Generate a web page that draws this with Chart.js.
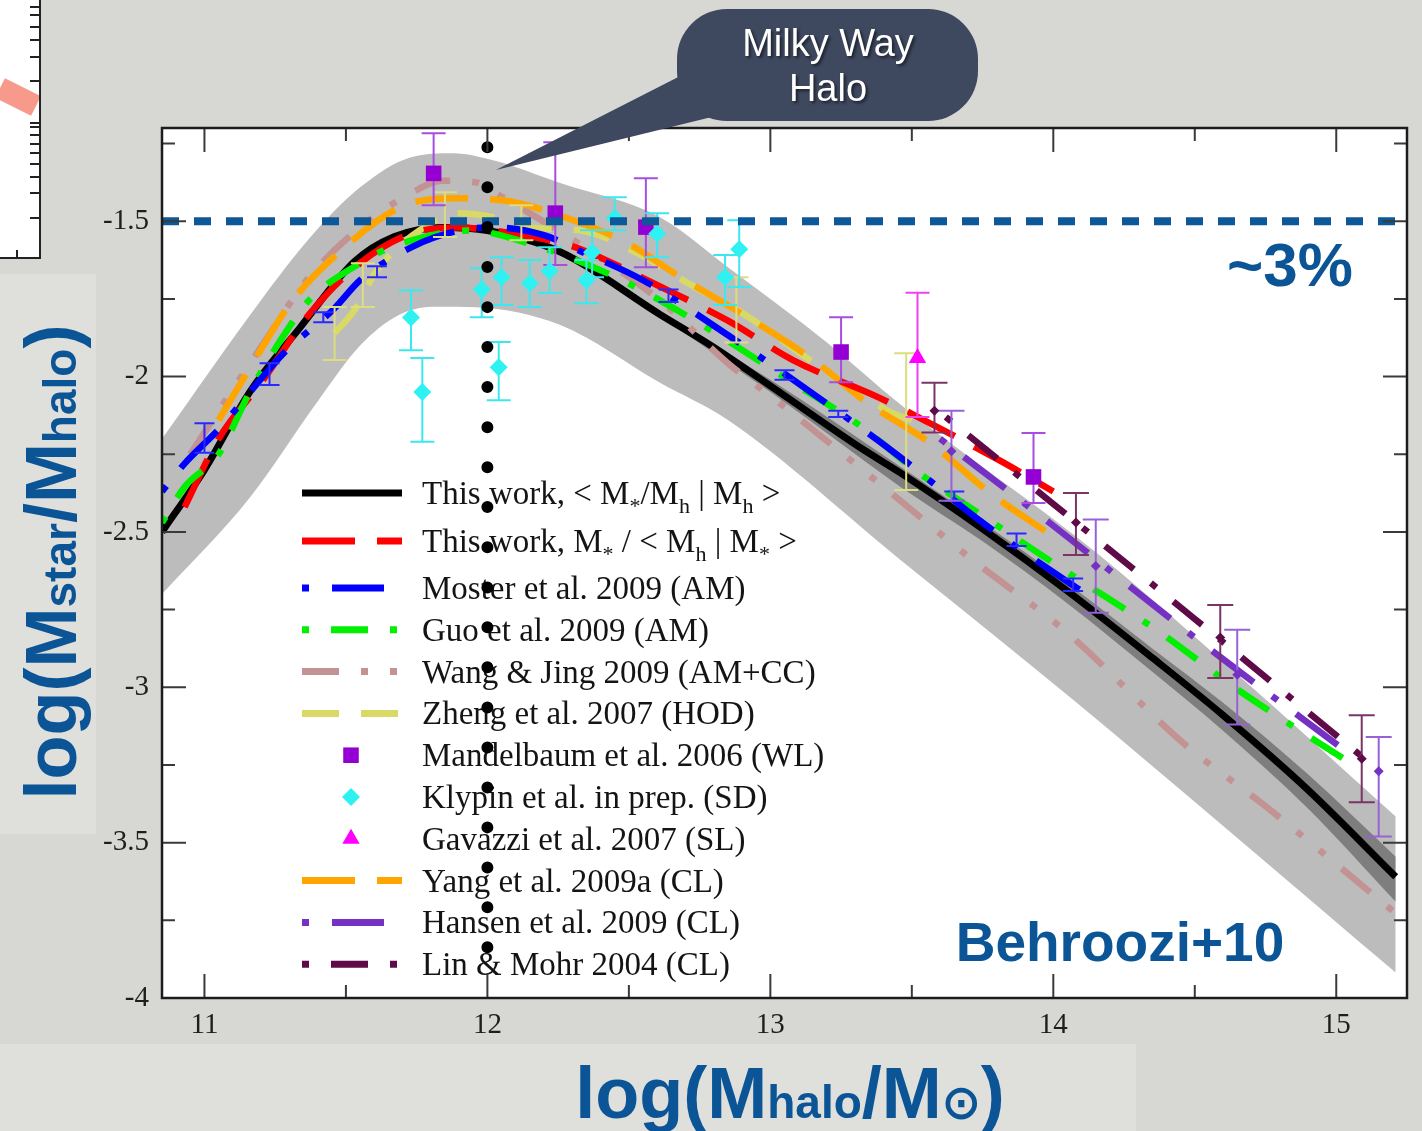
<!DOCTYPE html>
<html>
<head>
<meta charset="utf-8">
<script src="https://cdn.jsdelivr.net/npm/chart.js@4.4.1/dist/chart.umd.min.js"></script>
<style>
  html, body { margin: 0; padding: 0; background: #d7d7d4; }
  canvas { display: block; }
</style>
</head>
<body>
<canvas id="shmr" width="1422" height="1131"></canvas>
<script>
// axis ticks
const xTicks = [11, 12, 13, 14, 15];
const xMinorTicks = [11.5, 12.5, 13.5, 14.5];
const yTicks = [-4, -3.5, -3, -2.5, -2, -1.5];
const yMinorTicks = [-3.75, -3.25, -2.75, -2.25, -1.75, -1.25];

// light grey scatter band
const bandUpX = [10.85, 11.2, 11.375, 11.55, 11.73, 11.88, 12.02, 12.26, 12.61, 12.85, 13.2, 13.46, 14.17, 14.64, 15.21];
const bandUpY = [-2.2, -1.754, -1.551, -1.391, -1.294, -1.281, -1.304, -1.378, -1.487, -1.648, -1.89, -2.09, -2.58, -2.95, -3.416];
const bandLoX = [10.85, 11.16, 11.4, 11.55, 11.69, 11.82, 11.96, 12.26, 12.61, 12.85, 13.46, 14.07, 15.21];
const bandLoY = [-2.7, -2.39, -2.08, -1.9, -1.8, -1.775, -1.777, -1.835, -2.02, -2.14, -2.59, -3.04, -3.918];

// dark grey band around the main relation
const darkX = [12.6, 13.0, 13.46, 13.75, 14.05, 14.35, 14.6, 14.9, 15.21];
const darkUpY = [-1.79, -2.01, -2.29, -2.47, -2.665, -2.875, -3.05, -3.28, -3.545];
const darkLoY = [-1.8, -2.05, -2.355, -2.53, -2.73, -2.95, -3.14, -3.39, -3.69];

// model curves
const blackX = [10.85, 11.0, 11.16, 11.34, 11.53, 11.67, 11.84, 12.0, 12.26, 12.61, 12.79, 13.0, 13.32, 13.46, 13.75, 14.05, 14.35, 14.6, 14.9, 15.21];
const blackY = [-2.5, -2.3, -2.05, -1.84, -1.63, -1.55, -1.52, -1.53, -1.6, -1.8, -1.9, -2.03, -2.23, -2.31, -2.49, -2.69, -2.905, -3.09, -3.33, -3.61];
const redX = [10.93, 11.05, 11.2, 11.37, 11.55, 11.73, 11.9, 12.02, 12.26, 12.33, 12.61, 12.85, 13.08, 13.38, 13.5, 13.81, 14.0];
const redY = [-2.42, -2.2, -2.02, -1.8, -1.635, -1.54, -1.52, -1.53, -1.57, -1.59, -1.71, -1.82, -1.947, -2.066, -2.12, -2.27, -2.37];
const mosterX = [10.85, 10.93, 11.05, 11.28, 11.46, 11.55, 11.74, 11.9, 12.02, 12.2, 12.32, 12.55, 12.79, 13.08, 13.46, 13.75, 14.05, 14.1];
const mosterY = [-2.37, -2.28, -2.17, -1.925, -1.78, -1.69, -1.58, -1.53, -1.52, -1.545, -1.593, -1.69, -1.83, -2.01, -2.26, -2.47, -2.66, -2.69];
const guoX = [10.85, 10.93, 11.05, 11.16, 11.3, 11.37, 11.55, 11.67, 11.94, 12.14, 12.43, 12.73, 13.08, 13.32, 13.51, 13.77, 14.05, 14.38, 14.64, 15.06];
const guoY = [-2.47, -2.355, -2.25, -2.05, -1.84, -1.754, -1.635, -1.58, -1.53, -1.57, -1.67, -1.818, -2.02, -2.16, -2.3, -2.46, -2.63, -2.825, -3.0, -3.25];
const wangX = [10.95, 11.0, 11.2, 11.37, 11.55, 11.73, 11.84, 11.96, 12.03, 12.37, 12.61, 12.85, 13.02, 13.46, 13.7, 14.05, 14.46, 14.76, 15.2];
const wangY = [-2.25, -2.18, -1.905, -1.68, -1.52, -1.41, -1.37, -1.375, -1.41, -1.6, -1.755, -1.957, -2.076, -2.4, -2.58, -2.825, -3.18, -3.39, -3.72];
const zhengX = [11.46, 11.53, 11.61, 11.76, 11.9, 12.02, 12.14, 12.33, 12.53, 12.71, 12.9, 13.14, 13.43, 13.5];
const zhengY = [-1.86, -1.786, -1.657, -1.53, -1.474, -1.487, -1.52, -1.53, -1.603, -1.7, -1.795, -1.947, -2.117, -2.14];
const yangX = [11.05, 11.163, 11.304, 11.456, 11.693, 11.87, 12.046, 12.304, 12.495, 12.682, 12.919, 13.152, 13.343, 13.565, 13.777, 13.98];
const yangY = [-2.14, -1.969, -1.764, -1.616, -1.455, -1.426, -1.432, -1.497, -1.571, -1.68, -1.809, -1.947, -2.085, -2.214, -2.375, -2.503];
const hansenX = [13.6, 14.0, 14.5, 15.07];
const hansenY = [-2.2, -2.48, -2.84, -3.23];
const linX = [13.62, 14.0, 14.5, 15.1];
const linY = [-2.13, -2.41, -2.78, -3.23];

// data points with error bars (lo / hi are the bar ends)
const mandelX = [11.81, 12.24, 12.56, 13.25, 13.93];
const mandelY = [-1.346, -1.474, -1.519, -1.921, -2.323];
const mandelLo = [-1.449, -1.641, -1.648, -2.018, -2.407];
const mandelHi = [-1.217, -1.246, -1.362, -1.809, -2.182];
const klypinX = [11.73, 11.77, 11.98, 12.05, 12.04, 12.15, 12.22, 12.35, 12.37, 12.45, 12.6, 12.84, 12.89];
const klypinY = [-1.81, -2.05, -1.72, -1.68, -1.97, -1.7, -1.66, -1.69, -1.6, -1.49, -1.54, -1.68, -1.59];
const klypinLo = [-1.915, -2.21, -1.809, -1.77, -2.076, -1.776, -1.731, -1.764, -1.68, -1.529, -1.616, -1.77, -1.712];
const klypinHi = [-1.722, -1.94, -1.651, -1.616, -1.889, -1.625, -1.584, -1.625, -1.529, -1.423, -1.474, -1.609, -1.497];
const gavazziX = [13.52];
const gavazziY = [-1.94];
const gavazziLo = [-2.13];
const gavazziHi = [-1.73];
const zhengErrX = [11.46, 11.56, 11.85, 12.12, 12.88, 13.48];
const zhengErrY = [-1.86, -1.7, -1.48, -1.5, -1.78, -2.14];
const zhengErrLo = [-1.947, -1.776, -1.551, -1.561, -1.89, -2.365];
const zhengErrHi = [-1.776, -1.635, -1.407, -1.449, -1.68, -1.925];
const mosterErrX = [11.0, 11.23, 11.42, 11.61, 12.64, 13.05, 13.24, 13.65, 13.87, 14.07];
const mosterErrY = [-2.2, -1.99, -1.81, -1.66, -1.74, -1.995, -2.12, -2.385, -2.525, -2.67];
const mosterErrLo = [-2.245, -2.027, -1.825, -1.68, -1.76, -2.01, -2.13, -2.4, -2.545, -2.69];
const mosterErrHi = [-2.15, -1.957, -1.793, -1.645, -1.72, -1.98, -2.11, -2.37, -2.505, -2.65];
const linErrX = [13.58, 14.08, 14.59, 15.09];
const linErrY = [-2.11, -2.47, -2.84, -3.23];
const linErrLo = [-2.18, -2.574, -2.97, -3.37];
const linErrHi = [-2.02, -2.375, -2.735, -3.09];
const hansenErrX = [13.64, 14.15, 14.65, 15.15];
const hansenErrY = [-2.24, -2.61, -2.96, -3.27];
const hansenErrLo = [-2.4, -2.76, -3.12, -3.48];
const hansenErrHi = [-2.11, -2.46, -2.815, -3.16];

// reference lines
const pctX = [10.85, 15.21];
const pctY = [-1.5, -1.5];
const mwX = [12, 12];
const mwY = [-1.262, -3.845];

// tick marks of the neighbouring panel peeking in at the top-left corner
const cornerTickY = [7, 15, 27, 40, 57, 81, 123, 127, 135, 144, 153, 164, 177, 193, 218];

const BLUE = "#0b5596";
const SERIF = '"Liberation Serif", "Times New Roman", serif';
const SANS = '"Liberation Sans", Arial, sans-serif';

const pts = (xs, ys) => xs.map((x, i) => ({ x, y: ys[i] }));

const curve = (label, xs, ys, color, dash, order, width) => ({
  label, data: pts(xs, ys), borderColor: color, backgroundColor: color,
  borderWidth: width || 6.5, borderDash: dash, pointRadius: 0, fill: false, order,
});

const marks = (label, xs, ys, lo, hi, s) => ({
  label, data: pts(xs, ys), showLine: false, order: s.order,
  pointStyle: s.shape || "circle", pointRadius: s.radius, pointHoverRadius: s.radius,
  pointBackgroundColor: s.color, pointBorderWidth: 0,
  errorBars: { lo, hi, color: s.bar, cap: s.cap, width: s.width || 2 },
});

const datasets = [
  { label: "bandUp", data: pts(bandUpX, bandUpY), fill: "+1", backgroundColor: "#bcbcbc", borderWidth: 0, pointRadius: 0, order: 20 },
  { label: "bandLo", data: pts(bandLoX, bandLoY), fill: false, borderWidth: 0, pointRadius: 0, order: 19 },
  { label: "darkUp", data: pts(darkX, darkUpY), fill: "+1", backgroundColor: "#7e7e7e", borderWidth: 0, pointRadius: 0, order: 18 },
  { label: "darkLo", data: pts(darkX, darkLoY), fill: false, borderWidth: 0, pointRadius: 0, order: 17 },
  curve("black", blackX, blackY, "#000000", [], 14, 7),
  curve("wang", wangX, wangY, "#c39292", [37, 22, 7, 22, 7, 22], 13),
  curve("zheng", zhengX, zhengY, "#d9d966", [37, 22], 12),
  curve("yang", yangX, yangY, "#ffa500", [53, 22], 11),
  curve("red", redX, redY, "#ff0000", [53, 22], 10),
  curve("guo", guoX, guoY, "#00f000", [7, 22, 37, 22], 9),
  curve("moster", mosterX, mosterY, "#0000ff", [7, 23, 52, 23], 8),
  curve("hansen", hansenX, hansenY, "#7431c4", [7, 23, 52, 23], 7),
  curve("lin", linX, linY, "#5f0b47", [7, 22, 37, 22], 6),
  marks("zhengErr", zhengErrX, zhengErrY, zhengErrLo, zhengErrHi, { radius: 0, color: "#d9d966", bar: "#dcdc80", cap: 12, order: 5 }),
  marks("mosterErr", mosterErrX, mosterErrY, mosterErrLo, mosterErrHi, { radius: 0, color: "#0000ff", bar: "#2a2aff", cap: 10, order: 5 }),
  marks("linErr", linErrX, linErrY, linErrLo, linErrHi, { shape: "rectRot", radius: 5, color: "#5f0b47", bar: "#7a3566", cap: 13, order: 4 }),
  marks("hansenErr", hansenErrX, hansenErrY, hansenErrLo, hansenErrHi, { shape: "rectRot", radius: 5, color: "#7431c4", bar: "#9762d6", cap: 13, order: 4 }),
  marks("klypin", klypinX, klypinY, klypinLo, klypinHi, { shape: "rectRot", radius: 9, color: "#2ef2f2", bar: "#3ce8ee", cap: 12, order: 3 }),
  marks("mandel", mandelX, mandelY, mandelLo, mandelHi, { shape: "rect", radius: 11, color: "#9400d3", bar: "#a64ee0", cap: 12, order: 3 }),
  marks("gavazzi", gavazziX, gavazziY, gavazziLo, gavazziHi, { shape: "triangle", radius: 10, color: "#ff00ff", bar: "#f040f0", cap: 12, order: 3 }),
  { label: "threePct", data: pts(pctX, pctY), borderColor: "#0c5898", borderWidth: 8, borderDash: [17, 15], pointRadius: 0, tension: 0, order: 1 },
  { label: "mwHalo", data: pts(mwX, mwY), borderColor: "#000000", borderWidth: 12, borderDash: [0, 40], borderCapStyle: "round", pointRadius: 0, tension: 0, order: 0 },
];

// legend rows: [text, isSubscript]
const legendRows = [
  { key: "black", text: [["This work, < M"], ["*", 1], ["/M"], ["h", 1], [" | M"], ["h", 1], [" >"]] },
  { key: "red", text: [["This work, M"], ["*", 1], [" / < M"], ["h", 1], [" | M"], ["*", 1], [" >"]] },
  { key: "moster", text: [["Moster et al. 2009 (AM)"]] },
  { key: "guo", text: [["Guo et al. 2009 (AM)"]] },
  { key: "wang", text: [["Wang & Jing 2009 (AM+CC)"]] },
  { key: "zheng", text: [["Zheng et al. 2007 (HOD)"]] },
  { key: "mandel", text: [["Mandelbaum et al. 2006 (WL)"]] },
  { key: "klypin", text: [["Klypin et al. in prep. (SD)"]] },
  { key: "gavazzi", text: [["Gavazzi et al. 2007 (SL)"]] },
  { key: "yang", text: [["Yang et al. 2009a (CL)"]] },
  { key: "hansen", text: [["Hansen et al. 2009 (CL)"]] },
  { key: "lin", text: [["Lin & Mohr 2004 (CL)"]] },
];

function drawRich(ctx, parts, x, y, mainFont, subFont, subDy, align) {
  let w = 0;
  parts.forEach((p) => { ctx.font = p[1] ? subFont : mainFont; w += ctx.measureText(p[0]).width; });
  let cx = align === "center" ? x - w / 2 : x;
  ctx.textAlign = "left";
  parts.forEach((p) => {
    ctx.font = p[1] ? subFont : mainFont;
    ctx.fillText(p[0], cx, y + (p[1] ? subDy : 0));
    cx += ctx.measureText(p[0]).width;
  });
}

function drawLegend(chart) {
  const ctx = chart.ctx;
  const byLabel = {};
  chart.data.datasets.forEach((d) => { byLabel[d.label] = d; });
  ctx.save();
  legendRows.forEach((row, i) => {
    const y = i < 2 ? 493 + 48 * i : 588 + 41.8 * (i - 2);
    const ds = byLabel[row.key];
    if (ds.showLine === false) {
      ctx.fillStyle = ds.pointBackgroundColor;
      Chart.helpers.drawPoint(ctx, { pointStyle: ds.pointStyle, radius: ds.pointRadius, rotation: 0, borderWidth: 0 }, 351, y);
    } else {
      ctx.strokeStyle = ds.borderColor;
      ctx.lineWidth = 7;
      ctx.lineCap = "butt";
      ctx.setLineDash(ds.borderDash);
      ctx.beginPath(); ctx.moveTo(302, y); ctx.lineTo(402, y); ctx.stroke();
      ctx.setLineDash([]);
    }
    ctx.fillStyle = "#141414";
    ctx.textBaseline = "alphabetic";
    drawRich(ctx, row.text, 422, y + 11, "33px " + SERIF, "22px " + SERIF, 9, "left");
  });
  ctx.restore();
}

const slidePlugin = {
  id: "slide",
  beforeDraw(chart) {
    const { ctx, chartArea: a, width, height } = chart;
    ctx.save();
    ctx.fillStyle = "#d7d7d4";
    ctx.fillRect(0, 0, width, height);
    ctx.fillStyle = "#dfdfdc";
    ctx.fillRect(0, 1044, 1136, height - 1044);
    ctx.fillRect(0, 274, 96, 560);
    // corner of the neighbouring panel on the slide
    ctx.fillStyle = "#ffffff";
    ctx.fillRect(0, 0, 40, 258);
    ctx.strokeStyle = "#f79a8c";
    ctx.lineWidth = 22;
    ctx.beginPath(); ctx.moveTo(0, 88); ctx.lineTo(36, 106); ctx.stroke();
    ctx.strokeStyle = "#222";
    ctx.lineWidth = 2;
    ctx.beginPath();
    ctx.moveTo(40, 0); ctx.lineTo(40, 258); ctx.lineTo(0, 258);
    cornerTickY.forEach((t) => { ctx.moveTo(40, t); ctx.lineTo(30, t); });
    ctx.moveTo(17, 258); ctx.lineTo(17, 250);
    ctx.stroke();
    ctx.fillStyle = "#ffffff";
    ctx.fillRect(a.left, a.top, a.right - a.left, a.bottom - a.top);
    ctx.restore();
  },
  beforeDatasetDraw(chart, args) {
    const ds = chart.data.datasets[args.index];
    if (ds.label === "mwHalo") drawLegend(chart);
    const eb = ds.errorBars;
    if (!eb) return;
    const { ctx, chartArea: a, scales: { x, y } } = chart;
    ctx.save();
    ctx.beginPath(); ctx.rect(a.left, a.top, a.right - a.left, a.bottom - a.top); ctx.clip();
    ctx.strokeStyle = eb.color;
    ctx.lineWidth = eb.width;
    ctx.beginPath();
    ds.data.forEach((p, i) => {
      const px = x.getPixelForValue(p.x);
      const y1 = y.getPixelForValue(eb.lo[i]);
      const y2 = y.getPixelForValue(eb.hi[i]);
      ctx.moveTo(px, y1); ctx.lineTo(px, y2);
      ctx.moveTo(px - eb.cap, y1); ctx.lineTo(px + eb.cap, y1);
      ctx.moveTo(px - eb.cap, y2); ctx.lineTo(px + eb.cap, y2);
    });
    ctx.stroke();
    ctx.restore();
  },
  afterDatasetsDraw(chart) {
    const { ctx, chartArea: a, scales: { x, y } } = chart;
    ctx.save();
    ctx.strokeStyle = "#3a3a3a";
    ctx.lineWidth = 2;
    ctx.beginPath();
    const tickX = (v, len) => {
      const px = x.getPixelForValue(v);
      ctx.moveTo(px, a.bottom); ctx.lineTo(px, a.bottom - len);
      ctx.moveTo(px, a.top); ctx.lineTo(px, a.top + len);
    };
    const tickY = (v, len) => {
      const py = y.getPixelForValue(v);
      ctx.moveTo(a.left, py); ctx.lineTo(a.left + len, py);
      ctx.moveTo(a.right, py); ctx.lineTo(a.right - len, py);
    };
    xTicks.forEach((v) => tickX(v, 24));
    xMinorTicks.forEach((v) => tickX(v, 13));
    yTicks.forEach((v) => tickY(v, 24));
    yMinorTicks.forEach((v) => tickY(v, 13));
    ctx.stroke();
    ctx.strokeStyle = "#1c1c1c";
    ctx.lineWidth = 2.5;
    ctx.strokeRect(a.left, a.top, a.right - a.left, a.bottom - a.top);
    ctx.restore();
  },
  afterDraw(chart) {
    const { ctx, scales: { x, y } } = chart;
    ctx.save();
    ctx.fillStyle = BLUE;
    ctx.textBaseline = "alphabetic";
    ctx.textAlign = "center";
    ctx.font = "bold 62px " + SANS;
    ctx.fillText("~3%", 1290, 286);
    ctx.font = "bold 55px " + SANS;
    ctx.fillText("Behroozi+10", 1120, 961);

    // axis titles
    drawRich(ctx, [["log(M"], ["halo", 1], ["/M"], ["\u2299", 1], [")"]], 790, 1118,
      "bold 72px " + SANS, "bold 46px " + SANS, 0, "center");
    ctx.save();
    ctx.translate(76, 562);
    ctx.rotate(-Math.PI / 2);
    drawRich(ctx, [["log(M"], ["star", 1], ["/M"], ["halo", 1], [")"]], 0, 0,
      "bold 72px " + SANS, "bold 46px " + SANS, 0, "center");
    ctx.restore();

    // callout bubble
    const tipX = x.getPixelForValue(12.03);
    const tipY = y.getPixelForValue(-1.335);
    ctx.fillStyle = "#3e485f";
    ctx.beginPath();
    ctx.moveTo(tipX, tipY); ctx.lineTo(692, 70); ctx.lineTo(724, 114); ctx.closePath();
    ctx.fill();
    ctx.beginPath();
    ctx.roundRect(677, 9, 301, 112, 50);
    ctx.fill();
    ctx.fillStyle = "#ffffff";
    ctx.textAlign = "center";
    ctx.shadowColor = "rgba(0,0,0,0.55)";
    ctx.shadowOffsetX = 2; ctx.shadowOffsetY = 2; ctx.shadowBlur = 3;
    ctx.font = "38px " + SANS;
    ctx.fillText("Milky Way", 828, 56);
    ctx.fillText("Halo", 828, 101);
    ctx.restore();
  },
};

new Chart(document.getElementById("shmr"), {
  type: "line",
  data: { datasets },
  options: {
    responsive: false,
    animation: false,
    events: [],
    layout: { padding: { top: 128, right: 15, left: 0, bottom: 0 } },
    elements: {
      line: { tension: 0.4, cubicInterpolationMode: "monotone", borderCapStyle: "butt" },
    },
    plugins: { legend: { display: false }, tooltip: { enabled: false } },
    scales: {
      x: {
        type: "linear", min: 10.85, max: 15.25,
        afterBuildTicks: (s) => { s.ticks = xTicks.map((v) => ({ value: v })); },
        afterFit: (s) => { s.height = 133; },
        grid: { display: false, drawTicks: false },
        border: { display: false },
        ticks: { font: { family: SERIF, size: 29 }, color: "#1e1e1e", padding: 10, maxRotation: 0, autoSkip: false, callback: (v) => String(v) },
      },
      y: {
        type: "linear", min: -4, max: -1.2,
        afterBuildTicks: (s) => { s.ticks = yTicks.map((v) => ({ value: v })); },
        afterFit: (s) => { s.width = 162; },
        grid: { display: false, drawTicks: false },
        border: { display: false },
        ticks: { font: { family: SERIF, size: 29 }, color: "#1e1e1e", padding: 13, autoSkip: false, callback: (v) => String(v) },
      },
    },
  },
  plugins: [slidePlugin],
});
</script>
</body>
</html>
